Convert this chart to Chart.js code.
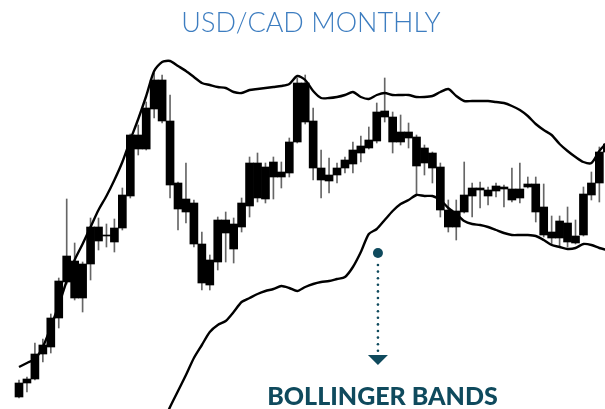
<!DOCTYPE html>
<html lang="en">
<head>
    <meta charset="UTF-8">
    <title>USD/CAD Monthly</title>
    <script src="https://cdn.jsdelivr.net/npm/chart.js"></script>
    <style>
        body {
            margin: 0;
            background: #fff;
            width: 605px;
            height: 409px;
            overflow: hidden;
            position: relative;
            font-family: Lato, 'Open Sans', sans-serif;
        }
        #chart {
            position: absolute;
            left: 0;
            top: 0;
        }
        .title {
            position: absolute;
            left: 0;
            width: 622px;
            top: 5px;
            text-align: center;
            font-size: 27px;
            line-height: 33px;
            font-weight: 300;
            color: #3d7dc0;
            white-space: nowrap;
        }
        .label {
            position: absolute;
            left: 0;
            width: 765px;
            top: 380px;
            text-align: center;
            font-size: 25px;
            line-height: 30px;
            font-weight: 900;
            color: #0f4a5d;
            white-space: nowrap;
        }
    </style>
</head>
<body>
    <canvas id="chart" width="605" height="409"></canvas>
    <div class="title">USD/CAD MONTHLY</div>
    <div class="label">BOLLINGER BANDS</div>

    <script>
        // monthly candles, values (arbitrary price units)
        const months = Array.from({length: 75}, (_, i) => i + 1);
        const openVals = [
            3, 17, 21, 46, 53, 82, 118, 139, 102, 136,
            173, 164, 158, 172, 204, 265, 251, 291, 320, 279,
            217, 188, 197, 156, 115, 138, 180, 176, 173, 194,
            237, 201, 238, 223, 227, 258, 317, 279, 232, 219,
            225, 232, 236, 247, 252, 259, 289, 283, 258, 268,
            263, 252, 247, 233, 190, 173, 188, 204, 212, 210,
            209, 213, 211, 202, 213, 216, 193, 162, 162, 177,
            164, 165, 205, 217, 248
        ];
        const closeVals = [
            17, 21, 46, 55, 82, 119, 144, 102, 136, 173,
            159, 165, 172, 205, 265, 251, 292, 320, 279, 215,
            191, 201, 156, 117, 140, 180, 167, 151, 197, 237,
            202, 233, 223, 228, 258, 317, 278, 232, 220, 225,
            232, 240, 250, 254, 260, 288, 283, 258, 268, 262,
            234, 237, 232, 190, 173, 189, 205, 212, 210, 204,
            214, 211, 200, 211, 216, 188, 165, 168, 179, 158,
            157, 206, 217, 248, 256
        ];
        const highVals = [
            20, 23, 57, 61, 86, 122, 201, 157, 138, 182,
            182, 176, 181, 212, 266, 275, 298, 327, 325, 305,
            218, 237, 200, 168, 145, 183, 188, 182, 202, 243,
            247, 237, 243, 238, 262, 322, 325, 292, 250, 242,
            237, 243, 258, 264, 273, 297, 322, 288, 285, 277,
            265, 255, 248, 237, 200, 200, 238, 217, 218, 213,
            217, 215, 232, 237, 223, 223, 216, 184, 184, 193,
            180, 213, 228, 253, 260
        ];
        const lowVals = [
            2, 8, 20, 38, 47, 72, 116, 100, 88, 120,
            150, 153, 148, 170, 202, 245, 250, 282, 277, 202,
            170, 177, 153, 110, 110, 130, 138, 137, 168, 183,
            198, 197, 201, 212, 223, 257, 276, 220, 202, 207,
            217, 227, 227, 238, 251, 257, 278, 247, 255, 252,
            205, 225, 217, 183, 168, 160, 187, 183, 192, 195,
            203, 193, 198, 197, 212, 178, 163, 155, 153, 153,
            156, 164, 200, 198, 245
        ];
        const upperBand = [
            33, 37, 41, 53, 73, 95, 119, 140, 156, 173,
            190, 204, 220, 238, 260, 281, 304, 329, 338, 339,
            334, 329, 323, 317, 315, 313, 312, 308, 307, 310,
            311, 312, 313, 314, 316, 324, 320, 309, 302, 302,
            303, 305, 308, 303, 301, 305, 307, 305, 305, 305,
            303, 303, 304, 308, 311, 304, 299, 299, 299, 299,
            298, 297, 294, 290, 284, 276, 270, 265, 256, 249,
            243, 238, 237, 249, 258
        ];
        const lowerBand = [
            null, null, null, null, null, null, null, null, null, null,
            null, null, null, null, null, null, null, null, -25, -7,
            9, 25, 42, 55, 68, 75, 79, 88, 98, 102,
            106, 109, 111, 114, 112, 109, 113, 116, 118, 119,
            121, 123, 133, 148, 166, 171, 180, 189, 196, 200,
            205, 204, 204, 200, 192, 186, 179, 176, 175, 173,
            170, 167, 165, 165, 165, 164, 160, 155, 153, 151,
            152, 156, 155, 152, 150
        ];
        // callout: month position, dot level, arrow tip level
        const calloutMonth = 46.15;
        const calloutDot = 147;
        const calloutTip = 35;

        const wicks = months.map((m, i) => ({x: m, y: [lowVals[i], highVals[i]]}));
        const bodies = months.map((m, i) => ({x: m, y: [openVals[i], closeVals[i]]}));
        const band = arr => months.map((m, i) => ({x: m, y: arr[i]}));

        const callout = {
            id: 'callout',
            afterDatasetsDraw(chart) {
                const ctx = chart.ctx;
                const x = chart.scales.x.getPixelForValue(calloutMonth);
                const yDot = chart.scales.y.getPixelForValue(calloutDot);
                const yTip = chart.scales.y.getPixelForValue(calloutTip);
                ctx.save();
                ctx.fillStyle = '#0f4a5d';
                ctx.beginPath();
                ctx.arc(x, yDot, 5, 0, Math.PI * 2);
                ctx.fill();
                for (let y = yDot + 12; y < yTip - 12; y += 6.6) {
                    ctx.beginPath();
                    ctx.arc(x, y, 1.3, 0, Math.PI * 2);
                    ctx.fill();
                }
                ctx.beginPath();
                ctx.moveTo(x - 10, yTip - 10);
                ctx.lineTo(x + 10, yTip - 10);
                ctx.lineTo(x, yTip);
                ctx.closePath();
                ctx.fill();
                ctx.restore();
            }
        };

        new Chart(document.getElementById('chart'), {
            data: {
                datasets: [
                    {
                        type: 'line',
                        data: band(upperBand),
                        borderColor: '#000',
                        borderWidth: 2.4,
                        pointRadius: 0,
                        tension: 0.25,
                        order: 0
                    },
                    {
                        type: 'line',
                        data: band(lowerBand),
                        borderColor: '#000',
                        borderWidth: 2.4,
                        pointRadius: 0,
                        tension: 0.25,
                        order: 0
                    },
                    {
                        type: 'bar',
                        data: bodies,
                        backgroundColor: '#000',
                        barThickness: 8,
                        grouped: false,
                        order: 1
                    },
                    {
                        type: 'bar',
                        data: wicks,
                        backgroundColor: '#666',
                        barThickness: 1,
                        grouped: false,
                        order: 2
                    }
                ]
            },
            options: {
                responsive: false,
                animation: false,
                layout: { padding: 0 },
                plugins: {
                    legend: { display: false },
                    tooltip: { enabled: false }
                },
                scales: {
                    x: { type: 'linear', offset: false, min: -1.39, max: 74.71, display: false },
                    y: { min: -9, max: 400, display: false }
                }
            },
            plugins: [callout]
        });
    </script>
</body>
</html>
